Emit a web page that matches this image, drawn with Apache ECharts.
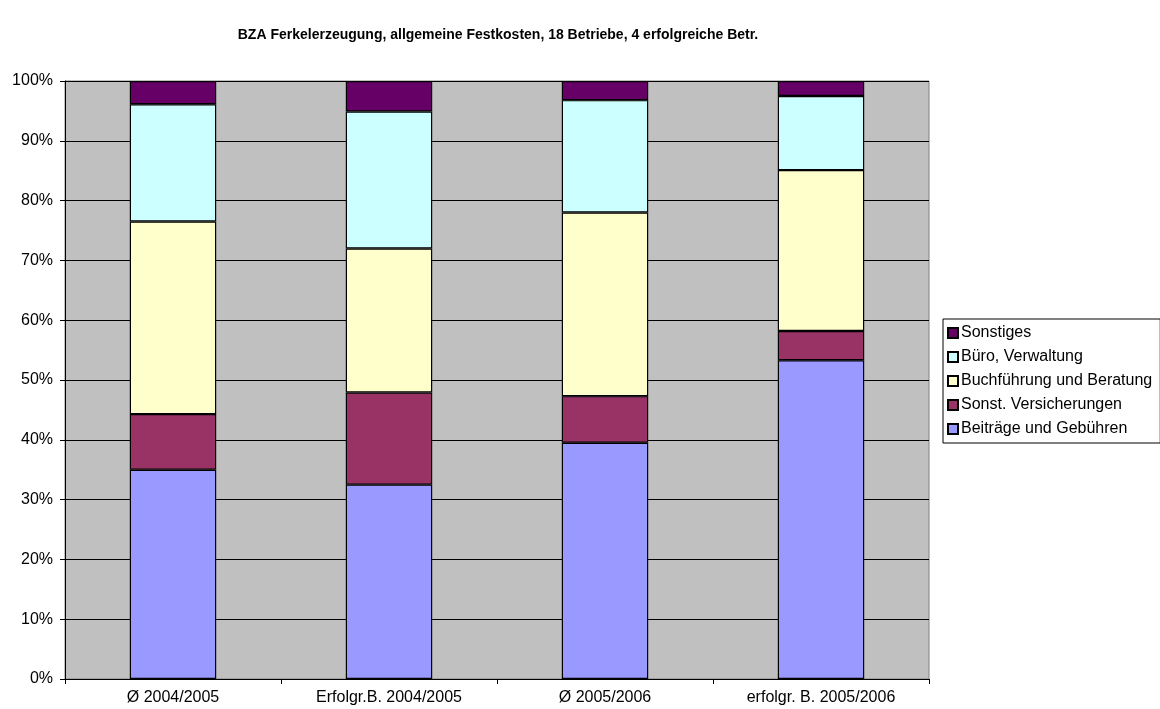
<!DOCTYPE html>
<html>
<head>
<meta charset="utf-8">
<script src="https://fastly.jsdelivr.net/npm/echarts@6/dist/echarts.min.js"></script>
<style>
  html, body { margin: 0; padding: 0; background: #fff; }
  #chart { width: 1160px; height: 709px; }
</style>
</head>
<body>
<div id="chart"></div>
<script>
// Kategorien und Anteile (in %)
const categories = ["Ø 2004/2005", "Erfolgr.B. 2004/2005", "Ø 2005/2006", "erfolgr. B. 2005/2006"];
const beitraege = [35.0, 32.5, 39.5, 53.3];
const versicherungen = [9.3, 15.4, 7.8, 4.9];
const buchfuehrung = [32.2, 24.1, 30.7, 26.9];
const buero = [19.6, 22.9, 18.8, 12.4];
const sonstiges = [3.9, 5.1, 3.2, 2.5];
const yTicks = [0, 10, 20, 30, 40, 50, 60, 70, 80, 90, 100];

const seriesDefs = [
  { name: "Beiträge und Gebühren", data: beitraege, color: "#9999FF" },
  { name: "Sonst. Versicherungen", data: versicherungen, color: "#993366" },
  { name: "Buchführung und Beratung", data: buchfuehrung, color: "#FFFFCC" },
  { name: "Büro, Verwaltung", data: buero, color: "#CCFFFF" },
  { name: "Sonstiges", data: sonstiges, color: "#660066" },
];

const chart = echarts.init(document.getElementById("chart"));
const font = "Liberation Sans, Arial, sans-serif";

chart.setOption({
  animation: false,
  textStyle: { fontFamily: font },
  title: {
    text: "BZA Ferkelerzeugung, allgemeine Festkosten, 18 Betriebe, 4 erfolgreiche Betr.",
    left: 493,
    textAlign: "center",
    top: 23,
    textStyle: { fontFamily: font, fontSize: 14, fontWeight: "bold", color: "#000" },
  },
  legend: {
    orient: "vertical",
    left: 943,
    top: 319,
    data: seriesDefs.map(s => ({ name: s.name, icon: "rect" })).reverse(),
    itemWidth: 10,
    itemHeight: 10,
    itemGap: 8,
    padding: [6, 8, 6, 4],
    borderColor: "#000",
    borderWidth: 1,
    backgroundColor: "#fff",
    textStyle: { fontFamily: font, fontSize: 16, lineHeight: 16, color: "#000", padding: [0, 0, 0, -2] },
  },
  grid: {
    left: 65,
    right: 231,
    top: 81,
    bottom: 30,
    show: true,
    backgroundColor: "#C0C0C0",
    borderColor: "#808080",
    borderWidth: 1,
  },
  xAxis: {
    type: "category",
    data: categories,
    axisLine: { lineStyle: { color: "#000", width: 1 } },
    axisTick: { show: true, length: 5, lineStyle: { color: "#000" } },
    axisLabel: { color: "#000", fontSize: 16, margin: 11, fontFamily: font },
  },
  yAxis: {
    type: "value",
    min: 0,
    max: 100,
    interval: 10,
    axisLine: { show: true, lineStyle: { color: "#000", width: 1 } },
    axisTick: { show: true, length: 5, lineStyle: { color: "#000" } },
    axisLabel: {
      color: "#000",
      fontSize: 16,
      margin: 12,
      fontFamily: font,
      formatter: v => (yTicks.includes(v) ? v + "%" : ""),
    },
    splitLine: { show: true, lineStyle: { color: "#000", width: 1 } },
  },
  series: seriesDefs.map(s => ({
    name: s.name,
    type: "bar",
    stack: "total",
    data: s.data,
    barWidth: "40%",
    itemStyle: { color: s.color, borderColor: "#000", borderWidth: 1.2 },
  })),
});
</script>
</body>
</html>
